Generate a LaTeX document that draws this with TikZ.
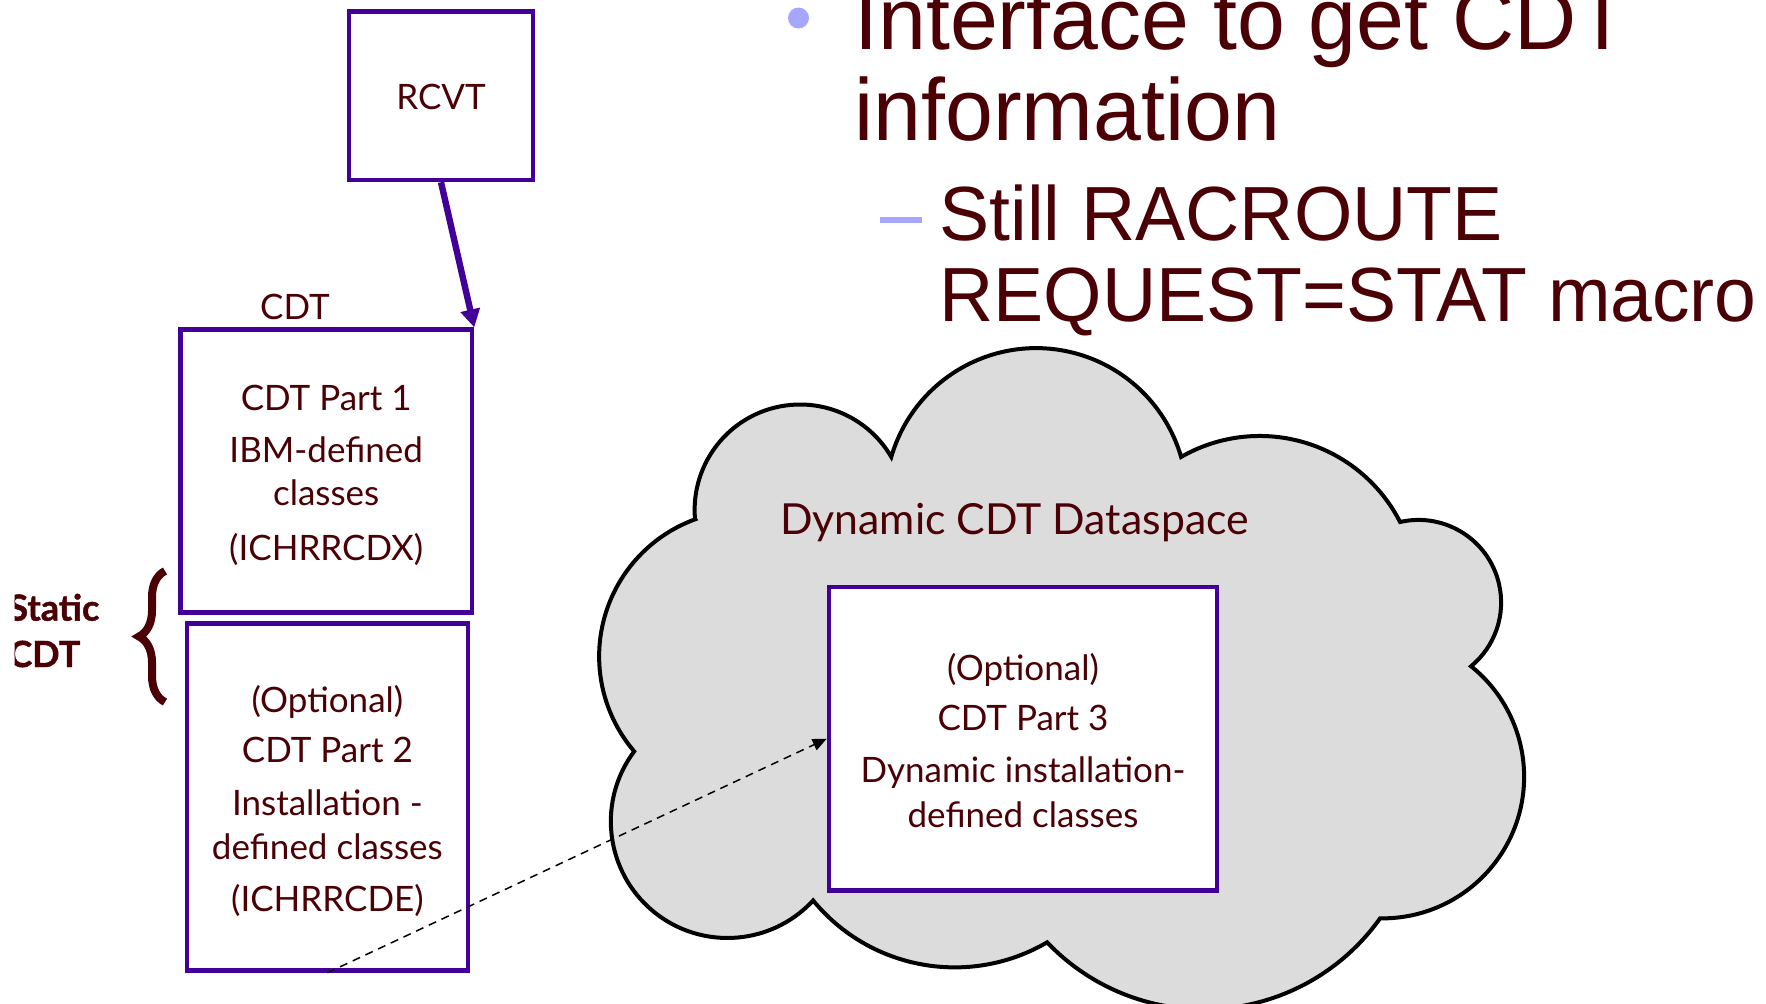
\documentclass[tikz,border=0pt]{standalone}
\usepackage{fontspec}
\setmainfont{Lato}
\newfontfamily\heavyfont{Lato}[BoldFeatures={FakeBold=1.2}]
\newfontfamily\slidefont[FakeStretch=0.978]{Liberation Sans}
\usetikzlibrary{arrows.meta,decorations.pathreplacing}
\definecolor{txtred}{RGB}{75,0,5}
\definecolor{boxpurple}{RGB}{66,0,153}
\definecolor{bulletblue}{RGB}{166,166,255}
\definecolor{cloudgray}{RGB}{220,220,220}
\begin{document}
\begin{tikzpicture}[x=0.5pt,y=-0.5pt,
  box/.style={draw=boxpurple, line width=2.3pt, fill=white, inner sep=0pt},
  boxtext/.style={text=txtred, align=center, inner sep=0pt,
    font=\fontsize{17.5}{21.5}\selectfont},
  lbl/.style={text=txtred, inner sep=0pt, font=\fontsize{17.5}{21.5}\selectfont},
  boldlbl/.style={text=txtred, inner sep=0pt, anchor=base west, font=\heavyfont\bfseries\fontsize{18}{21.5}\selectfont},
  slideone/.style={text=txtred, inner sep=0pt, anchor=base west, font=\slidefont\fontsize{44}{44}\selectfont},
  slidetwo/.style={text=txtred, inner sep=0pt, anchor=base west, font=\slidefont\fontsize{38.4}{38.4}\selectfont},
  cloudshape/.style={draw=black, fill=cloudgray, line width=2pt},
  bigarrow/.style={draw=boxpurple, line width=3.2pt, -{Triangle[length=9pt,width=9.5pt]}},
  dasharrow/.style={draw=black, line width=0.75pt, dash pattern=on 4pt off 3pt, -{Triangle[length=7pt,width=6pt]}}]
\useasboundingbox (0,0) rectangle (1766,1003);
\clip (0,0) rectangle (1766,1003);

% cloud
\path[cloudshape] (695,519)
  arc[start angle=175.1, end angle=329.8, radius=105.5]
  arc[start angle=196.2, end angle=343.8, radius=150.9]
  arc[start angle=240.1, end angle=333.0, radius=157.6]
  arc[start angle=257.1, end angle=410.5, radius=82.6]
  arc[start angle=-51.3, end angle=91.0, radius=141.6]
  arc[start angle=35.4, end angle=136.35, radius=216.4]
  arc[start angle=59.7, end angle=140.6, radius=183.2]
  arc[start angle=42.7, end angle=216.9, radius=116.6]
  arc[start angle=139.45, end angle=250.0, radius=146.0]
  -- cycle;

% boxes
\node[box, minimum width=92pt, minimum height=84.15pt] (rcvt) at (441,95.8) {};
\node[boxtext] (rcvtt) at ([yshift=-0.4pt]rcvt.center) {RCVT};

\node[box, minimum width=145.75pt, minimum height=141.35pt] (p1) at (326.2,471) {};
\node[boxtext] (p1t) at ([yshift=-2.1pt]p1.center)
  {CDT Part 1\\[4.5pt]IBM-defined\\classes\\[5.8pt](ICHRRCDX)};

\node[box, minimum width=140.4pt, minimum height=173.45pt] (p2) at (327.4,797) {};
\node[boxtext] (p2t) at ([yshift=-1.9pt]p2.center)
  {(Optional)\\[3.5pt]CDT Part 2\\[5pt]Installation -\\[0.5pt]defined classes\\[4.5pt](ICHRRCDE)};

\node[box, minimum width=194pt, minimum height=151.75pt] (p3) at (1023,738.7) {};
\node[boxtext] (p3t) at ([yshift=-0.9pt]p3.center)
  {(Optional)\\[3.6pt]CDT Part 3\\[4.5pt]Dynamic installation-\\[0.7pt]defined classes};

% labels
\node[lbl, anchor=base] (cdtlbl) at (295,319) {CDT};
\node[lbl, anchor=base, font=\fontsize{21.4}{24}\selectfont] (dyn) at (1014.5,534) {Dynamic CDT Dataspace};

\begin{scope}
  \clip (14.5,550) rectangle (125,700);
  \node[boldlbl] (static) at (8,620.6) {Static};
  \node[boldlbl] (staticcdt) at (8,667) {CDT};
\end{scope}

% brace
\coordinate (braceb) at (165,702);
\coordinate (bracet) at (165,571);
\draw[txtred, line width=4pt, decorate, decoration={brace, amplitude=13pt}] (braceb) -- (bracet);

% slide text
\fill[bulletblue] (798.5,18) circle[radius=10.5];
\fill[bulletblue] (880,217) rectangle (922,223);
\node[slideone] (la) at (854,49) {Interface to get CDT};
\node[slideone] (lb) at (854,140) {information};
\node[slidetwo] (lc) at (939,240) {Still RACROUTE};
\node[slidetwo] (ld) at (939,321) {REQUEST=STAT macro};

% connectors
\draw[bigarrow] (rcvt.south) -- (p1.north east);
\draw[dasharrow] (p2.south) -- (p3.west);
\end{tikzpicture}
\end{document}
